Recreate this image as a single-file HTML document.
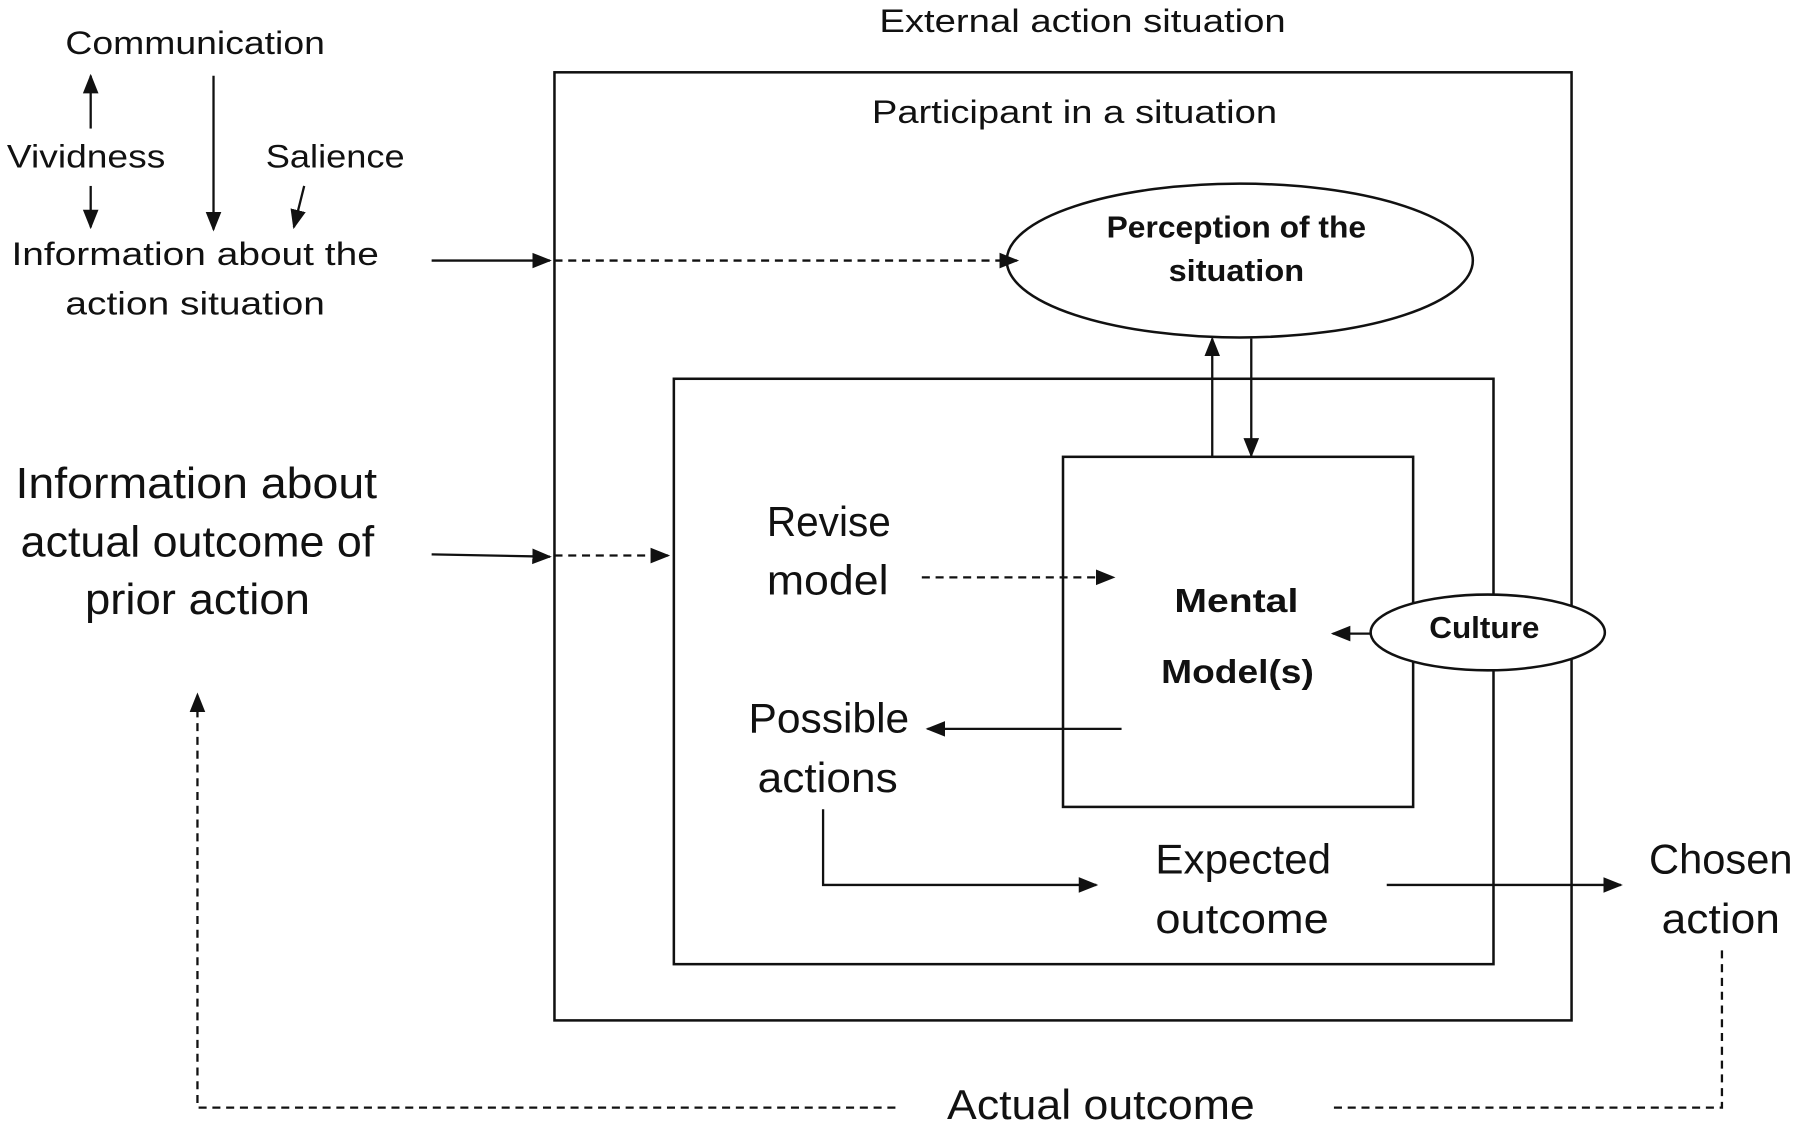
<!DOCTYPE html>
<html><head><meta charset="utf-8"><style>
html,body{margin:0;padding:0;background:#fff;}
svg{display:block;}
text{font-family:"Liberation Sans",sans-serif;fill:#111;}
</style></head><body>
<svg width="1800" height="1126" viewBox="0 0 1568 981" preserveAspectRatio="none" xmlns="http://www.w3.org/2000/svg">
<defs>
<marker id="b" viewBox="0 0 10 10" markerWidth="17" markerHeight="17" refX="9" refY="5" orient="auto" markerUnits="userSpaceOnUse"><path d="M0,1 L10,5 L0,9 Z" fill="#111"/></marker>
</defs>
<g stroke="#111" fill="none" stroke-width="2.2">
<rect x="483" y="63" width="886" height="826"/>
<rect x="587" y="330" width="714" height="510"/>
<rect x="926" y="398" width="305" height="305"/>
<ellipse cx="1080" cy="227" rx="203" ry="67" fill="#fff"/>
<ellipse cx="1296" cy="551" rx="102" ry="33" fill="#fff"/>
</g>
<g stroke="#111" fill="none" stroke-width="2" marker-end="url(#b)">
<line x1="79" y1="112" x2="79" y2="66"/>
<line x1="79" y1="162" x2="79" y2="198"/>
<line x1="186" y1="66" x2="186" y2="200"/>
<line x1="265" y1="162" x2="256" y2="198"/>
<line x1="376" y1="227" x2="479" y2="227"/>
<line x1="483" y1="227" x2="886" y2="227" stroke-dasharray="7,5"/>
<line x1="376" y1="483" x2="479" y2="485"/>
<line x1="483" y1="484" x2="582" y2="484" stroke-dasharray="7,5"/>
<line x1="1056" y1="398" x2="1056" y2="295"/>
<line x1="1090" y1="295" x2="1090" y2="397"/>
<line x1="803" y1="503" x2="970" y2="503" stroke-dasharray="7,5"/>
<line x1="1195" y1="552" x2="1161" y2="552"/>
<line x1="977" y1="635" x2="808" y2="635"/>
<polyline points="717,705 717,771 955,771"/>
<line x1="1208" y1="771" x2="1412" y2="771"/>
<polyline points="780,965 172,965 172,605" stroke-dasharray="7,5"/>
</g>
<polyline points="1500,828 1500,965 1160,965" stroke="#111" fill="none" stroke-width="2" stroke-dasharray="7,5"/>
<g text-anchor="middle" lengthAdjust="spacingAndGlyphs">
<text x="943" y="28" font-size="28" textLength="354" lengthAdjust="spacingAndGlyphs">External action situation</text>
<text x="936" y="107" font-size="28" textLength="353" lengthAdjust="spacingAndGlyphs">Participant in a situation</text>
<text x="1077" y="207" font-size="27" font-weight="bold" textLength="226" lengthAdjust="spacingAndGlyphs">Perception of the</text>
<text x="1077" y="245" font-size="27" font-weight="bold" textLength="118" lengthAdjust="spacingAndGlyphs">situation</text>
<text x="1077" y="533" font-size="29" font-weight="bold" textLength="108" lengthAdjust="spacingAndGlyphs">Mental</text>
<text x="1078" y="595" font-size="29" font-weight="bold" textLength="133" lengthAdjust="spacingAndGlyphs">Model(s)</text>
<text x="1293" y="556" font-size="27" font-weight="bold" textLength="96" lengthAdjust="spacingAndGlyphs">Culture</text>
<text x="722" y="467" font-size="36" textLength="108" lengthAdjust="spacingAndGlyphs">Revise</text>
<text x="721" y="518" font-size="36" textLength="106" lengthAdjust="spacingAndGlyphs">model</text>
<text x="722" y="638" font-size="36" textLength="140" lengthAdjust="spacingAndGlyphs">Possible</text>
<text x="721" y="690" font-size="36" textLength="122" lengthAdjust="spacingAndGlyphs">actions</text>
<text x="1083" y="761" font-size="36" textLength="153" lengthAdjust="spacingAndGlyphs">Expected</text>
<text x="1082" y="813" font-size="36" textLength="151" lengthAdjust="spacingAndGlyphs">outcome</text>
<text x="1499" y="761" font-size="36" textLength="125" lengthAdjust="spacingAndGlyphs">Chosen</text>
<text x="1499" y="813" font-size="36" textLength="103" lengthAdjust="spacingAndGlyphs">action</text>
<text x="959" y="975" font-size="36" textLength="268" lengthAdjust="spacingAndGlyphs">Actual outcome</text>
<text x="171" y="434" font-size="38" textLength="315" lengthAdjust="spacingAndGlyphs">Information about</text>
<text x="172" y="485" font-size="38" textLength="308" lengthAdjust="spacingAndGlyphs">actual outcome of</text>
<text x="172" y="535" font-size="38" textLength="196" lengthAdjust="spacingAndGlyphs">prior action</text>
<text x="170" y="47" font-size="28" textLength="226" lengthAdjust="spacingAndGlyphs">Communication</text>
<text x="75" y="146" font-size="28" textLength="138" lengthAdjust="spacingAndGlyphs">Vividness</text>
<text x="292" y="146" font-size="28" textLength="121" lengthAdjust="spacingAndGlyphs">Salience</text>
<text x="170" y="231" font-size="28" textLength="320" lengthAdjust="spacingAndGlyphs">Information  about the</text>
<text x="170" y="274" font-size="28" textLength="226" lengthAdjust="spacingAndGlyphs">action situation</text>
</g>
</svg>
</body></html>
